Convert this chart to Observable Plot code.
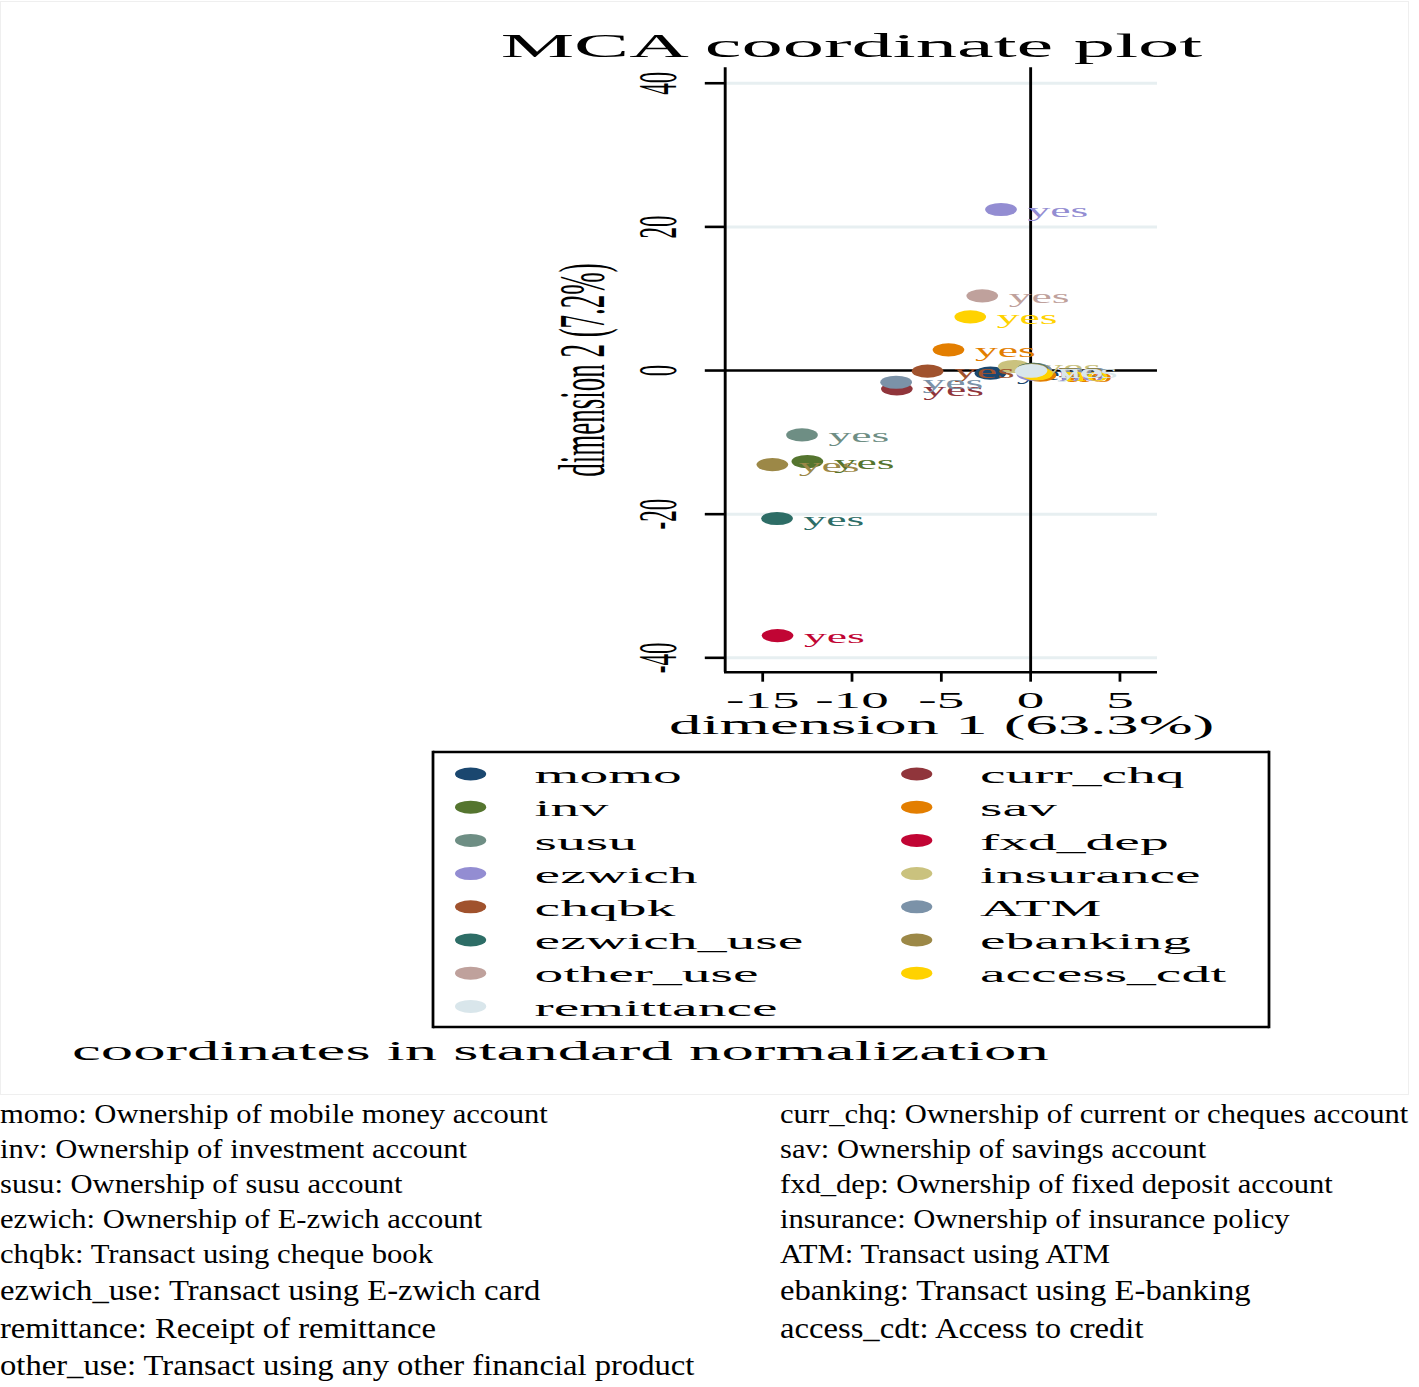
<!DOCTYPE html>
<html>
<head>
<meta charset="utf-8">
<script src="https://cdn.jsdelivr.net/npm/d3@7"></script>
<script src="https://cdn.jsdelivr.net/npm/@observablehq/plot@0.6"></script>
<style>
  html, body { margin: 0; padding: 0; background: #fff; }
  body { font-family: "Liberation Serif", "Times New Roman", serif; }
  #page { position: relative; width: 1419px; height: 1387px; overflow: hidden; background: #fff; }
  #frame { position: absolute; left: 0; top: 1px; width: 1409px; height: 1094px; border: 1px solid #efefef; box-sizing: border-box; }
  #stata { position: absolute; left: 0; top: 0; height: 1095px; transform-origin: 0 0; }
  #stata > * { position: absolute; left: 0; top: 0; }
  #caption { position: absolute; left: 0; top: 0; transform-origin: 0 0; }
</style>
</head>
<body>
<div id="page">
  <div id="frame"></div>
  <div id="stata"></div>
  <div id="caption"></div>
</div>
<script>
// ---------------- data ----------------
const variables = ["momo","curr_chq","inv","sav","susu","fxd_dep","ezwich","insurance","chqbk","ATM","ezwich_use","ebanking","other_use","access_cdt","remittance"];
const colors = ["#1a476f","#90353b","#55752f","#e37e00","#6e8e84","#c10534","#938dd2","#cac27e","#a0522d","#7b92a8","#2d6d66","#9c8847","#bfa19c","#ffd200","#d9e6eb"];
// "yes" category coordinates (dimension 1, dimension 2)
const yesDim1 = [-2.25, -7.49, -12.5, -4.6, -12.8, -14.17, -1.66, -0.94, -5.77, -7.53, -14.2, -14.46, -2.71, -3.38, 0.0];
const yesDim2 = [-0.37, -2.55, -12.67, 2.88, -8.96, -36.9, 22.42, 0.56, -0.09, -1.63, -20.6, -13.1, 10.4, 7.48, -0.1];
// "no" category coordinates (clustered near the origin)
const noDim1 = [0.3, 0.1, 0.1, 0.55, 0.2, 0.05, 0.1, 0.1, 0.2, 0.3, 0.1, 0.1, 0.1, 0.35, 0.05];
const noDim2 = [0.0, 0.05, 0.1, -0.65, 0.15, 0.13, -0.5, -0.05, 0.0, 0.1, 0.15, 0.1, -0.1, -0.45, 0.0];
const categories = ["no", "yes"];
const xTicks = [-15, -10, -5, 0, 5];
const yTicks = [-40, -20, 0, 20, 40];
const gridTicks = [-40, -20, 20, 40];
const titleText = "MCA coordinate plot";
const xLabel = "dimension 1 (63.3%)";
const yLabel = "dimension 2 (7.2%)";
const noteText = "coordinates in standard normalization";
const captionLeft = [
  "momo: Ownership of mobile money account",
  "inv: Ownership of investment account",
  "susu: Ownership of susu account",
  "ezwich: Ownership of E-zwich account",
  "chqbk: Transact using cheque book",
  "ezwich_use: Transact using E-zwich card",
  "remittance: Receipt of remittance",
  "other_use: Transact using any other financial product"
];
const captionRight = [
  "curr_chq: Ownership of current or cheques account",
  "sav: Ownership of savings account",
  "fxd_dep: Ownership of fixed deposit account",
  "insurance: Ownership of insurance policy",
  "ATM: Transact using ATM",
  "ebanking: Transact using E-banking",
  "access_cdt: Access to credit"
];

// ---------------- layout ----------------
const FONT = "Liberation Serif, Times New Roman, serif";
const K = 2.4;                 // horizontal stretch of the Stata graph
const INNER_W = 1409 / K;
const X0 = -17.1, X1 = 7.14, Y0 = -42.0, Y1 = 42.15;

const stata = document.getElementById("stata");
stata.style.width = INNER_W + "px";
stata.style.transform = `scaleX(${K})`;

const points = variables.flatMap((v, i) => [
  {v, i, cat: categories[0], d1: noDim1[i], d2: noDim2[i]},
  {v, i, cat: categories[1], d1: yesDim1[i], d2: yesDim2[i]}
]);

const marks = [
  Plot.ruleY(gridTicks, {stroke: "#e7eff1", strokeWidth: 3}),
  Plot.ruleY([0], {stroke: "#000", strokeWidth: 2.5}),
  Plot.ruleX([0], {stroke: "#000", strokeWidth: 1.2})
];
variables.forEach((v, i) => {
  const d = points.filter(p => p.i === i);
  marks.push(Plot.dot(d, {x: "d1", y: "d2", r: 6.6, fill: colors[i]}));
  marks.push(Plot.text(d, {x: "d1", y: "d2", text: "cat", fill: colors[i], dx: 11, dy: 1, textAnchor: "start", fontSize: 19}));
});
marks.push(
  Plot.ruleX([X0], {stroke: "#000", strokeWidth: 1.2}),
  Plot.ruleY([Y0], {stroke: "#000", strokeWidth: 2.6}),
  Plot.axisX({ticks: xTicks, tickSize: 10, tickPadding: 9, fontSize: 23, strokeWidth: 1.15, tickFormat: d => String(d), label: null}),
  Plot.axisY({ticks: yTicks, tickSize: 8, tickPadding: 12.4, tickRotate: -90, fontSize: 23, strokeWidth: 2.6, tickFormat: d => String(d), label: null}),
  Plot.text([yLabel], {frameAnchor: "left", text: d => d, rotate: -90, dx: -59, fontSize: 27, textAnchor: "middle", lineAnchor: "middle"}),
  Plot.text([xLabel], {frameAnchor: "bottom", text: d => d, dy: 42.4, fontSize: 27, textAnchor: "middle", lineAnchor: "top"})
);

const chart = Plot.plot({
  width: INNER_W,
  height: 745,
  marginLeft: 724 / K,
  marginRight: INNER_W - 1157 / K,
  marginTop: 67.3,
  marginBottom: 745 - 671.7,
  x: {domain: [X0, X1]},
  y: {domain: [Y0, Y1]},
  style: {fontFamily: FONT, background: "transparent", overflow: "visible", color: "#000"},
  marks
});
stata.appendChild(chart);

// overlay: title, legend, note
const svg = d3.select(stata).append("svg")
  .attr("width", INNER_W).attr("height", 1095)
  .style("overflow", "visible")
  .attr("font-family", FONT);

svg.append("text").attr("x", 354.8).attr("y", 57).attr("text-anchor", "middle")
  .attr("font-size", 34.4).attr("fill", "#000").text(titleText);

svg.append("text").attr("x", 30).attr("y", 1060)
  .attr("font-size", 27).attr("fill", "#000").text(noteText);

// legend box
const LX0 = 433 / K, LX1 = 1269 / K, LY0 = 752, LY1 = 1027;
svg.append("line").attr("x1", LX0).attr("x2", LX1).attr("y1", LY0).attr("y2", LY0).attr("stroke", "#000").attr("stroke-width", 2.6);
svg.append("line").attr("x1", LX0).attr("x2", LX1).attr("y1", LY1).attr("y2", LY1).attr("stroke", "#000").attr("stroke-width", 2.6);
svg.append("line").attr("x1", LX0).attr("x2", LX0).attr("y1", LY0 - 1.3).attr("y2", LY1 + 1.3).attr("stroke", "#000").attr("stroke-width", 1.15);
svg.append("line").attr("x1", LX1).attr("x2", LX1).attr("y1", LY0 - 1.3).attr("y2", LY1 + 1.3).attr("stroke", "#000").attr("stroke-width", 1.15);

const markerX = [470.6 / K, 916.7 / K];
const labelX = [534.6 / K, 980 / K];
variables.forEach((v, i) => {
  const col = i % 2, row = Math.floor(i / 2);
  const y = 774 + 33.2 * row;
  svg.append("circle").attr("cx", markerX[col]).attr("cy", y).attr("r", 6.5).attr("fill", colors[i]);
  svg.append("text").attr("x", labelX[col]).attr("y", y + 9.3).attr("font-size", 24).attr("fill", "#000").text(v);
});

// caption below the graph
const CS = 1.085;
const cap = document.getElementById("caption");
cap.style.transform = `scaleX(${CS})`;
const csvg = d3.select(cap).append("svg")
  .attr("width", 1419 / CS).attr("height", 1387)
  .attr("font-family", FONT);
const baselines = [1123, 1158.5, 1193, 1228, 1263, 1300.5, 1338.5, 1375.5];
const capSizes = [28.2, 28.2, 28.2, 28.2, 28.3, 30.1, 30.1, 30.1];
captionLeft.forEach((t, i) => {
  csvg.append("text").attr("x", 0).attr("y", baselines[i]).attr("font-size", capSizes[i]).attr("fill", "#000").text(t);
});
captionRight.forEach((t, i) => {
  csvg.append("text").attr("x", 780 / CS).attr("y", baselines[i]).attr("font-size", capSizes[i]).attr("fill", "#000").text(t);
});
</script>
</body>
</html>
